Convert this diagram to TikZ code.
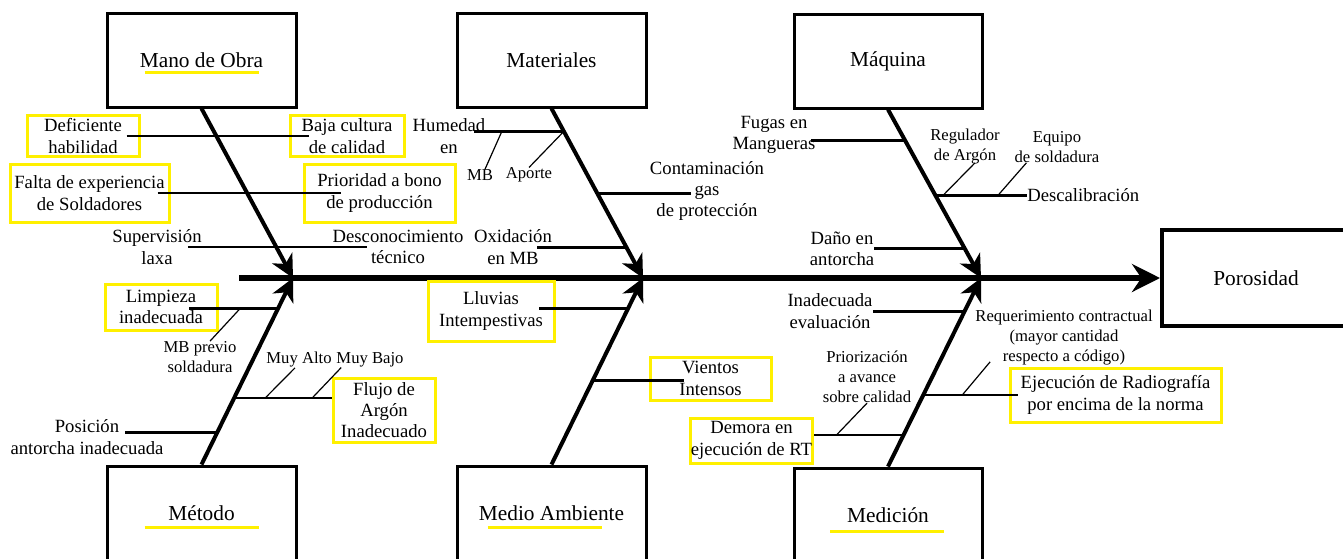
\documentclass[tikz,border=0pt]{standalone}
\usepackage{fontspec}
\setmainfont{Liberation Serif}
\usetikzlibrary{arrows.meta,calc}
\definecolor{mark}{RGB}{255,240,0}
\tikzset{
  size/.style 2 args = {minimum width={(#1)*0.75pt}, minimum height={(#2)*0.75pt}},
  title/.style = {draw, line width=2.25pt, inner sep=0pt, size={189}{94},
    font=\fontsize{16}{19}\selectfont},
  effect/.style = {draw, line width=3pt, inner sep=0pt, size={188}{96},
    font=\fontsize{16}{19}\selectfont},
  txt/.style = {align=center, inner sep=0pt, font=\fontsize{14}{16}\selectfont},
  note/.style = {align=center, inner sep=0pt, font=\fontsize{12.5}{15}\selectfont},
  hl/.style = {txt, draw=mark, line width=2.25pt},
  uline/.style = {draw=mark, line width=2.25pt}
}
\tikzset{
  spine/.style = {line width=4.2pt, -{Stealth[length=21pt,width=21pt,inset=7pt]}},
  bone/.style = {line width=3pt, -{Stealth[length=17pt,width=17pt,inset=5pt]}},
  cause/.style = {line width=2pt},
  twig/.style = {line width=0.9pt}
}

\begin{document}
\begin{tikzpicture}[x=0.75pt,y=-0.75pt]
  \useasboundingbox (0,0) rectangle (1343,558);
  \clip (0,0) rectangle (1343,558);
  % effect and categories
  \node[effect] (poros) at (1256,278) {Porosidad};
  \node[title] (mano) at (201.5,60) {Mano de Obra};
  \node[title] (materiales) at (551.5,60) {Materiales};
  \node[title,size={188}{94}] (maquina) at (888,61) {Máquina};
  \node[title] (metodo) at (201.5,513) {Método};
  \node[title] (medio) at (551.5,513) {Medio Ambiente};
  \node[title,size={188}{94}] (medicion) at (888,515) {Medición};
  % yellow marks under titles
  \draw[uline] ($(mano.center)+(-57,12)$) -- ++(114,0);
  \draw[uline] ($(metodo.center)+(-57,14)$) -- ++(114,0);
  \draw[uline] ($(medio.center)+(-64,14)$) -- ++(114,0);
  \draw[uline] ($(medicion.center)+(-58,16)$) -- ++(114,0);
  % spine and bones
  \coordinate (tail) at (239,278);
  \coordinate (j1) at (293,278);
  \coordinate (j2) at (643,278);
  \coordinate (j3) at (981,278);
  \draw[spine] (tail) -- (poros.west);
  \draw[bone] (mano.south) -- (j1);
  \draw[bone] (materiales.south) -- (j2);
  \draw[bone] (maquina.south) -- (j3);
  \draw[bone] (metodo.north) -- (j1);
  \draw[bone] (medio.north) -- (j2);
  \draw[bone] (medicion.north) -- (j3);

  % mano de obra
  \node[hl,size={112}{41}] (defic) at (83,136) {Deficiente\\habilidad};
  \node[hl,size={114}{41}] (baja) at (347,136) {Baja cultura\\de calidad};
  \node[hl,size={159}{58}] (falta) at (89.5,193) {Falta de experiencia\\de Soldadores};
  \node[hl,size={151}{58}] (prior) at (379.5,193) {Prioridad a bono\\de producción};
  \node[txt] (superv) at (157,247) {Supervisión\\laxa};
  \node[txt] (descon) at (398,247) {Desconocimiento\\técnico};
  \draw[cause] ($(defic.east)+(-14,0)$) -- ($(baja.west)+(20,0)$);
  \draw[cause] ($(falta.east)+(-13,0)$) -- ($(prior.west)+(38,0)$);
  \draw[cause] ($(superv.east)+(-14,0)$) -- ($(descon.west)+(35,0)$);

  % metodo
  \node[hl,size={112}{46}] (limp) at (161,307) {Limpieza\\inadecuada};
  \node[note] (mbprev) at (200,357) {MB previo\\soldadura};
  \node[note] (muyalto) at (299,360) {Muy Alto};
  \node[note] (muybajo) at (370,360) {Muy Bajo};
  \node[hl,size={102}{64}] (flujo) at (384,410) {Flujo de\\Argón\\Inadecuado};
  \node[txt] (posic) at (87,437) {Posición\\antorcha inadecuada};
  \coordinate (m1) at ($(metodo.north)!.835!(j1)$);
  \coordinate (m2) at ($(metodo.north)!.356!(j1)$);
  \coordinate (m3) at ($(metodo.north)!.170!(j1)$);
  \draw[cause] (m1) -- ($(m1 -| limp.east)+(-30,0)$);
  \draw[twig] ($(m1)+(-38,0)$) -- ($(mbprev.north)+(10,0)$);
  \draw[cause] (m2) -- (m2 -| flujo.west);
  \draw[twig] ($(m2)+(31,0)$) -- ($(muyalto.south)+(-4,0)$);
  \draw[twig] ($(m2)+(78,0)$) -- ($(muybajo.south west)+(5,0)$);
  \draw[cause] (m3) -- ($(m3 -| posic.east)+(-39,0)$);

  % materiales
  \node[txt] (humed) at (449,136) {Humedad\\en};
  \node[note] (mbm) at (480,175) {MB};
  \node[note] (aporte) at (529,175) {Aporte};
  \node[txt] (contam) at (707,191) {Contaminación\\gas\\de protección};
  \node[txt] (oxid) at (513,247) {Oxidación\\en MB};
  \coordinate (a1) at ($(materiales.south)!.135!(j2)$);
  \coordinate (a2) at ($(materiales.south)!.503!(j2)$);
  \coordinate (a3) at ($(materiales.south)!.819!(j2)$);
  \draw[cause] (a1) -- ($(a1 -| humed.east)+(-12,0)$);
  \draw[twig] ($(a1)+(-62,0)$) -- ($(mbm.north)+(5,0)$);
  \draw[twig] (a1) -- (aporte.north);
  \draw[cause] (a2) -- ($(a2 -| contam.west)+(41,0)$);
  \draw[cause] (a3) -- ($(a3 -| oxid.east)+(-15,0)$);

  % medio ambiente
  \node[hl,size={126}{60}] (lluv) at (491,311) {Lluvias\\Intempestivas};
  \node[hl,size={121}{43}] (vient) at (710.5,378.5) {Vientos\\Intensos};
  \coordinate (e1) at ($(medio.north)!.835!(j2)$);
  \coordinate (e2) at ($(medio.north)!.452!(j2)$);
  \draw[cause] (e1) -- ($(e1 -| lluv.east)+(-17,0)$);
  \draw[cause] (e2) -- ($(e2 -| vient.west)+(35,0)$);

  % maquina
  \node[txt] (fugas) at (774,135) {Fugas en\\Mangueras};
  \node[note] (regul) at (965,147) {Regulador\\de Argón};
  \node[note] (equipo) at (1057,147) {Equipo\\de soldadura};
  \node[txt,anchor=west] (descal) at (1027,195) {Descalibración};
  \node[txt] (dano) at (842,249) {Daño en\\antorcha};
  \coordinate (q1) at ($(maquina.south)!.182!(j3)$);
  \coordinate (q2) at ($(maquina.south)!.512!(j3)$);
  \coordinate (q3) at ($(maquina.south)!.824!(j3)$);
  \draw[cause] (q1) -- ($(q1 -| fugas.east)+(-5,0)$);
  \draw[cause] (q2) -- (q2 -| descal.west);
  \draw[twig] ($(q2)+(7,0)$) -- ($(regul.south)+(10,-2)$);
  \draw[twig] ($(q2)+(62,0)$) -- ($(equipo.south west)+(12,0)$);
  \draw[cause] (q3) -- (q3 -| dano.east);

  % medicion
  \node[txt] (inad) at (830,311) {Inadecuada\\evaluación};
  \node[note] (requer) at (1064,338) {Requerimiento contractual\\(mayor cantidad\\respecto a código)};
  \node[hl,size={211}{54}] (ejec) at (1115.5,395) {Ejecución de Radiografía\\por encima de la norma};
  \node[note] (prioriz) at (867,377) {Priorización\\a avance\\sobre calidad};
  \node[hl,size={121}{45}] (demora) at (751.5,440.5) {Demora en\\ejecución de RT};
  \coordinate (d1) at ($(medicion.north)!.821!(j3)$);
  \coordinate (d2) at ($(medicion.north)!.379!(j3)$);
  \coordinate (d3) at ($(medicion.north)!.168!(j3)$);
  \draw[cause] (d1) -- (d1 -| inad.east);
  \draw[cause] (d2) -- ($(d2 -| ejec.west)+(9,0)$);
  \draw[twig] ($(d2)+(39,0)$) -- ($(requer.south west)+(15,-4)$);
  \draw[cause] (d3) -- (d3 -| demora.east);
  \draw[twig] ($(d3)+(-67,0)$) -- (prioriz.south);
\end{tikzpicture}
\end{document}
